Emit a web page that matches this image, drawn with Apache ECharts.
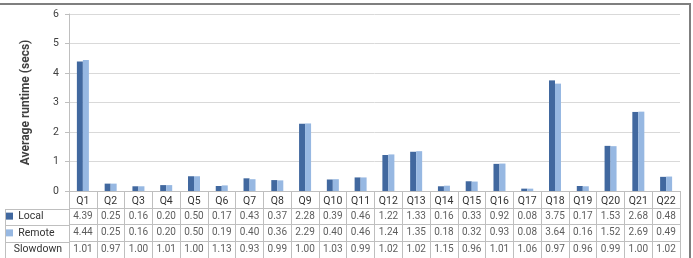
<!DOCTYPE html>
<html>
<head>
<meta charset="utf-8">
<script src="https://cdn.jsdelivr.net/npm/echarts@6/dist/echarts.min.js"></script>
<style>
  html, body { margin: 0; padding: 0; background: #fff; }
  #chart { width: 693px; height: 258px; }
</style>
</head>
<body>
<div id="chart"></div>
<script>
// 查询名称
const queries = ['Q1', 'Q2', 'Q3', 'Q4', 'Q5', 'Q6', 'Q7', 'Q8', 'Q9', 'Q10', 'Q11',
  'Q12', 'Q13', 'Q14', 'Q15', 'Q16', 'Q17', 'Q18', 'Q19', 'Q20', 'Q21', 'Q22']
// 本地运行时间
const localTimes = [4.39, 0.25, 0.16, 0.20, 0.50, 0.17, 0.43, 0.37, 2.28, 0.39, 0.46,
  1.22, 1.33, 0.16, 0.33, 0.92, 0.08, 3.75, 0.17, 1.53, 2.68, 0.48]
// 远程运行时间
const remoteTimes = [4.44, 0.25, 0.16, 0.20, 0.50, 0.19, 0.40, 0.36, 2.29, 0.40, 0.46,
  1.24, 1.35, 0.18, 0.32, 0.93, 0.08, 3.64, 0.16, 1.52, 2.69, 0.49]
// 减速比
const slowdown = [1.01, 0.97, 1.00, 1.01, 1.00, 1.13, 0.93, 0.99, 1.00, 1.03, 0.99,
  1.02, 1.02, 1.15, 0.96, 1.01, 1.06, 0.97, 0.96, 0.99, 1.00, 1.02]
// 表格行
const tableRows = ['', 'Local', 'Remote', 'Slowdown']
const yTicks = [0, 1, 2, 3, 4, 5, 6]

const font = 'Roboto, sans-serif'
const localColor = '#41689f'
const remoteColor = '#97b8e2'
const lineColor = '#bfbfbf'
const textColor = '#333333'

// 表格单元格数据
const cells = []
;[localTimes, remoteTimes, slowdown].forEach((arr, r) => {
  arr.forEach((v, i) => cells.push([i, tableRows[r + 1], v]))
})

const chart = echarts.init(document.getElementById('chart'))
const option = {
  animation: false,
  textStyle: { fontFamily: font },
  graphic: [{
    type: 'rect',
    shape: { x: -10, y: 4, width: 700, height: 300 },
    style: { fill: 'none', stroke: '#7f7f7f', lineWidth: 2 },
    silent: true
  }],
  grid: [
    { left: 69, width: 611, top: 14, height: 177 },
    { left: 69, width: 611, top: 191, height: 74 },
    { left: 5, width: 64, top: 209.5, height: 55.5 }
  ],
  xAxis: [
    {
      type: 'category', gridIndex: 0, data: queries,
      axisLine: { lineStyle: { color: lineColor } },
      axisTick: { show: false },
      axisLabel: { color: textColor, fontSize: 10.5, margin: 5, interval: 0, fontFamily: font }
    },
    {
      type: 'category', gridIndex: 1, data: queries,
      axisLine: { show: false }, axisTick: { show: false }, axisLabel: { show: false },
      splitLine: { show: true, interval: 0, lineStyle: { color: lineColor } }
    },
    {
      type: 'value', gridIndex: 2, min: 0, max: 1, interval: 1,
      axisLine: { show: false }, axisTick: { show: false }, axisLabel: { show: false },
      splitLine: { show: true, lineStyle: { color: lineColor } }
    }
  ],
  yAxis: [
    {
      type: 'value', gridIndex: 0, min: 0, max: 6, interval: 1,
      name: 'Average runtime (secs)', nameLocation: 'middle', nameGap: 37,
      nameTextStyle: { fontWeight: 'bold', fontSize: 12, color: '#404040', fontFamily: font },
      axisLine: { show: true, lineStyle: { color: lineColor } },
      axisTick: { show: true, length: 4, lineStyle: { color: lineColor } },
      axisLabel: {
        color: '#404040', fontSize: 10.5, margin: 10, fontFamily: font,
        formatter: (v) => (yTicks.includes(v) ? String(v) : '')
      },
      splitLine: { lineStyle: { color: '#d9d9d9' } }
    },
    {
      type: 'category', gridIndex: 1, data: tableRows, inverse: true,
      axisLine: { show: false }, axisTick: { show: false },
      splitLine: { show: true, interval: 0, lineStyle: { color: lineColor } },
      axisLabel: {
        align: 'left', margin: 63, fontSize: 10.5, color: textColor, fontFamily: font,
        formatter: (v) => {
          if (v === 'Local') return '{l|}  ' + v
          if (v === 'Remote') return '{r|}  ' + v
          return v ? '   ' + v : ''
        },
        rich: {
          l: { width: 7, height: 7, backgroundColor: localColor },
          r: { width: 7, height: 7, backgroundColor: remoteColor }
        }
      }
    },
    {
      type: 'category', gridIndex: 2, data: tableRows.slice(1), inverse: true,
      axisLine: { show: false }, axisTick: { show: false }, axisLabel: { show: false },
      splitLine: { show: true, interval: 0, lineStyle: { color: lineColor } }
    }
  ],
  series: [
    {
      name: 'Local', type: 'bar', xAxisIndex: 0, yAxisIndex: 0,
      data: localTimes, barWidth: 6, barGap: '0%',
      itemStyle: { color: localColor }
    },
    {
      name: 'Remote', type: 'bar', xAxisIndex: 0, yAxisIndex: 0,
      data: remoteTimes, barWidth: 6, barGap: '0%',
      itemStyle: { color: remoteColor }
    },
    {
      type: 'scatter', xAxisIndex: 1, yAxisIndex: 1,
      data: cells, symbolSize: 0, silent: true,
      label: {
        show: true, position: 'inside', fontSize: 10, color: textColor, fontFamily: font,
        formatter: (p) => p.value[2].toFixed(2)
      }
    }
  ]
}
chart.setOption(option)
</script>
</body>
</html>
